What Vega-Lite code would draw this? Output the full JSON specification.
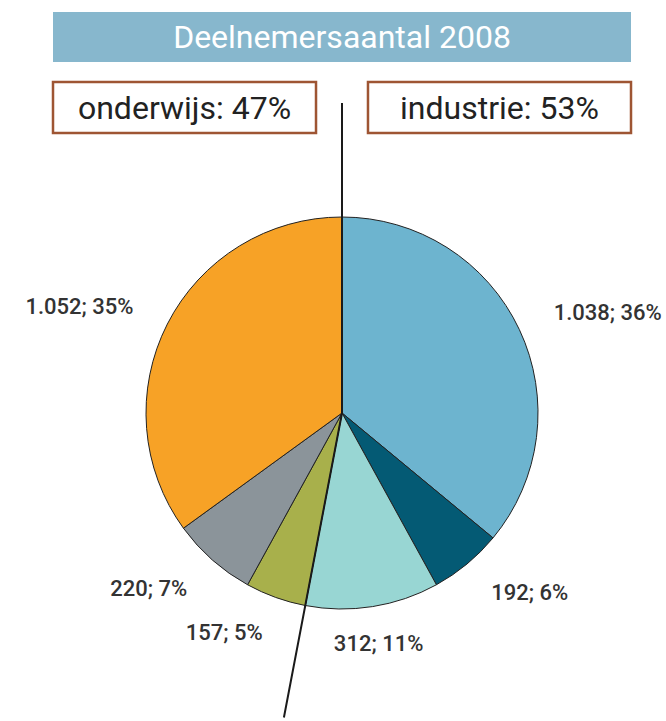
{
  "$schema": "https://vega.github.io/schema/vega-lite/v6.json",
  "padding": {"left": 25, "top": 12, "right": 0, "bottom": 0},
  "autosize": {"type": "pad"},
  "spacing": 20,
  "bounds": "flush",
  "config": {"view": {"stroke": null}, "font": "Roboto"},
  "vconcat": [
    {
      "width": 578,
      "height": 50,
      "data": {"values": [{"title": "Deelnemersaantal 2008"}]},
      "layer": [
        {"mark": {"type": "rect", "fill": "#87b7cd"}, "encoding": {}},
        {
          "mark": {"type": "text", "color": "white", "fontSize": 32, "baseline": "middle", "align": "center", "dy": 1},
          "encoding": {"text": {"field": "title"}}
        }
      ]
    },
    {
      "width": 578,
      "height": 51,
      "data": {"values": [
        {"sector": "onderwijs", "label": "onderwijs: 47%"},
        {"sector": "industrie", "label": "industrie: 53%"}
      ]},
      "encoding": {
        "x": {"field": "sector", "type": "nominal", "sort": ["onderwijs", "industrie"], "axis": null,
              "scale": {"paddingInner": 0.165, "paddingOuter": 0}}
      },
      "layer": [
        {"mark": {"type": "rect", "fill": "white", "stroke": "#9e5533", "strokeWidth": 2.5}},
        {
          "mark": {"type": "text", "color": "#222222", "fontSize": 32, "baseline": "middle", "dy": 1},
          "encoding": {"text": {"field": "label"}}
        }
      ]
    },
    {
      "width": 578,
      "height": 520,
      "layer": [
        {
          "data": {"values": [
            {"rank": 1, "sector": "industrie", "count": 1038, "pct": 36, "label": "1.038; 36%"},
            {"rank": 2, "sector": "industrie", "count": 192, "pct": 6, "label": "192; 6%"},
            {"rank": 3, "sector": "industrie", "count": 312, "pct": 11, "label": "312; 11%"},
            {"rank": 4, "sector": "onderwijs", "count": 157, "pct": 5, "label": "157; 5%"},
            {"rank": 5, "sector": "onderwijs", "count": 220, "pct": 7, "label": "220; 7%"},
            {"rank": 6, "sector": "onderwijs", "count": 1052, "pct": 35, "label": "1.052; 35%"}
          ]},
          "layer": [
            {
              "mark": {"type": "arc", "outerRadius": 196, "stroke": "#222222", "strokeWidth": 1},
              "encoding": {
                "theta": {"field": "pct", "type": "quantitative", "stack": true, "scale": {"domain": [0, 100]}},
                "color": {"field": "label", "type": "nominal", "legend": null,
                  "scale": {"domain": ["1.038; 36%", "192; 6%", "312; 11%", "157; 5%", "220; 7%", "1.052; 35%"],
                            "range": ["#6db4cf", "#045a74", "#98d6d3", "#a8b04b", "#8b949a", "#f7a226"]}},
                "order": {"field": "rank", "type": "quantitative"}
              }
            },
            {
              "mark": {"type": "text", "radius": 234, "fontSize": 22, "fontWeight": 500, "color": "#333333", "baseline": "middle",
                       "align": {"expr": "datum.sector == 'industrie' ? (datum.count == 312 ? 'center' : 'left') : 'right'"}},
              "encoding": {
                "theta": {"field": "pct", "type": "quantitative", "stack": true},
                "detail": {"field": "label", "type": "nominal"},
                "order": {"field": "rank", "type": "quantitative"},
                "text": {"field": "label"}
              }
            }
          ]
        },
        {
          "data": {"values": [
            {"boundary": "start", "share": 0},
            {"boundary": "industrie | onderwijs", "share": 53}
          ]},
          "mark": {"type": "arc", "outerRadius": 310, "innerRadius": 0, "fillOpacity": 0, "stroke": "#1a1a1a", "strokeWidth": 2},
          "encoding": {
            "theta": {"field": "share", "type": "quantitative", "stack": null},
            "theta2": {"field": "share"}
          }
        }
      ]
    }
  ]
}
